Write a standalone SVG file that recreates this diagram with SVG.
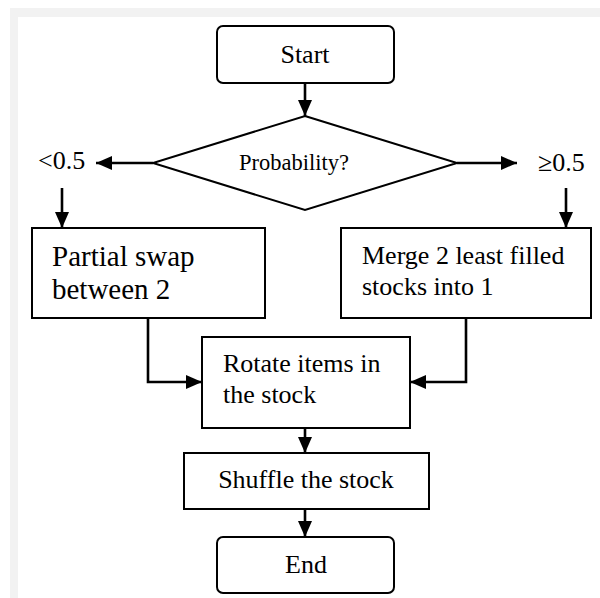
<svg xmlns="http://www.w3.org/2000/svg" width="600" height="598" viewBox="0 0 600 598">
  <style>
    .box { fill: #ffffff; stroke: #000000; stroke-width: 2; }
    .edge { fill: none; stroke: #000000; stroke-width: 2.6; stroke-linejoin: miter; marker-end: url(#head); }
    text { font-family: "Liberation Serif", "Times New Roman", serif; fill: #000000; }
    .mid { text-anchor: middle; }
  </style>
  <defs>
    <marker id="head" markerUnits="userSpaceOnUse" markerWidth="16" markerHeight="14" refX="16" refY="7" orient="auto">
      <path d="M0,0 L16,7 L0,14 z" fill="#000000"/>
    </marker>
  </defs>

  <!-- page frame -->
  <rect x="0" y="0" width="600" height="598" fill="#ffffff"/>
  <rect x="10" y="8" width="590" height="590" fill="#f2f2f2"/>
  <rect x="18" y="17" width="582" height="581" fill="#ffffff"/>

  <!-- connectors -->
  <g id="connectors">
    <path class="edge" d="M305,83 V116"/>
    <path class="edge" d="M153,163 H96"/>
    <path class="edge" d="M457,163 H517"/>
    <path class="edge" d="M62,188 V228"/>
    <path class="edge" d="M566,188 V228"/>
    <path class="edge" d="M148,318 V382 H202"/>
    <path class="edge" d="M466,318 V382 H410"/>
    <path class="edge" d="M305,428 V453"/>
    <path class="edge" d="M305,509 V537"/>
  </g>

  <g id="start">
    <rect class="box" x="217" y="26" width="177" height="57" rx="6"/>
    <text class="mid" x="305" y="63" font-size="26">Start</text>
  </g>

  <g id="decision">
    <polygon class="box" points="305,116 457,163 305,210 153,163"/>
    <text x="239" y="170" font-size="22.5">Probability?</text>
  </g>

  <g id="label-low">
    <text x="38" y="169" font-size="26">&lt;0.5</text>
  </g>

  <g id="label-high">
    <text x="538" y="171" font-size="26">≥0.5</text>
  </g>

  <g id="partial-swap">
    <rect class="box" x="32" y="228" width="233" height="90"/>
    <text x="52" y="266" font-size="29">Partial swap</text>
    <text x="52" y="299" font-size="29">between 2</text>
  </g>

  <g id="merge">
    <rect class="box" x="341" y="228" width="250" height="90"/>
    <text x="362" y="264" font-size="26">Merge 2 least filled</text>
    <text x="362" y="295" font-size="26">stocks into 1</text>
  </g>

  <g id="rotate">
    <rect class="box" x="202" y="337" width="208" height="91"/>
    <text x="223" y="372" font-size="26">Rotate items in</text>
    <text x="223" y="403" font-size="26">the stock</text>
  </g>

  <g id="shuffle">
    <rect class="box" x="184" y="453" width="245" height="56"/>
    <text class="mid" x="306" y="488" font-size="26">Shuffle the stock</text>
  </g>

  <g id="end">
    <rect class="box" x="217" y="537" width="177" height="56" rx="6"/>
    <text class="mid" x="306" y="573" font-size="26">End</text>
  </g>
</svg>
